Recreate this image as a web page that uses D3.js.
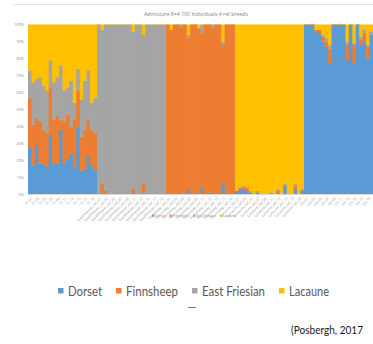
<!DOCTYPE html>
<html>
<head>
<meta charset="utf-8">
<script src="https://cdn.jsdelivr.net/npm/d3@7"></script>
<style>
  body { margin: 0; background: #fff; }
  svg { display: block; }
</style>
</head>
<body>
<svg id="chart" width="373" height="344"></svg>
<script>
const breeds = ['Dorset', 'Finnsheep', 'East Friesian', 'Lacaune']
const colors = ['#5B9BD5', '#ED7D31', '#A5A5A5', '#FFC000']

// sample ids, one per bar (5 groups of 20)
const testIds = ['T1 01', 'T1 02', 'T1 03', 'T1 04', 'T1 05', 'T1 06', 'T1 07', 'T1 08', 'T1 09', 'T1 10',
  'T1 11', 'T1 12', 'T1 13', 'T1 14', 'T1 15', 'T1 16', 'T1 17', 'T1 18', 'T1 19', 'T1 20']
const eastFriesianIds = ['EastFriesian_ref_01', 'EastFriesian_ref_02', 'EastFriesian_ref_03', 'EastFriesian_ref_04',
  'EastFriesian_ref_05', 'EastFriesian_ref_06', 'EastFriesian_ref_07', 'EastFriesian_ref_08', 'EastFriesian_ref_09',
  'EastFriesian_ref_10', 'EastFriesian_ref_11', 'EastFriesian_ref_12', 'EastFriesian_ref_13', 'EastFriesian_ref_14',
  'EastFriesian_ref_15', 'EastFriesian_ref_16', 'EastFriesian_ref_17', 'EastFriesian_ref_18', 'EastFriesian_ref_19',
  'EastFriesian_ref_20']
const finnsheepIds = ['Finnsheep_ref_01', 'Finnsheep_ref_02', 'Finnsheep_ref_03', 'Finnsheep_ref_04', 'Finnsheep_ref_05',
  'Finnsheep_ref_06', 'Finnsheep_ref_07', 'Finnsheep_ref_08', 'Finnsheep_ref_09', 'Finnsheep_ref_10', 'Finnsheep_ref_11',
  'Finnsheep_ref_12', 'Finnsheep_ref_13', 'Finnsheep_ref_14', 'Finnsheep_ref_15', 'Finnsheep_ref_16', 'Finnsheep_ref_17',
  'Finnsheep_ref_18', 'Finnsheep_ref_19', 'Finnsheep_ref_20']
const lacauneIds = ['Lacaune_ref_01', 'Lacaune_ref_02', 'Lacaune_ref_03', 'Lacaune_ref_04', 'Lacaune_ref_05',
  'Lacaune_ref_06', 'Lacaune_ref_07', 'Lacaune_ref_08', 'Lacaune_ref_09', 'Lacaune_ref_10', 'Lacaune_ref_11',
  'Lacaune_ref_12', 'Lacaune_ref_13', 'Lacaune_ref_14', 'Lacaune_ref_15', 'Lacaune_ref_16', 'Lacaune_ref_17',
  'Lacaune_ref_18', 'Lacaune_ref_19', 'Lacaune_ref_20']
const dorsetIds = ['DS 01', 'DS 02', 'DS 03', 'DS 04', 'DS 05', 'DS 06', 'DS 07', 'DS 08', 'DS 09', 'DS 10',
  'DS 11', 'DS 12', 'DS 13', 'DS 14', 'DS 15', 'DS 16', 'DS 17', 'DS 18', 'DS 19', 'DS 20']

// admixture proportions (%) per bar
const dorset = [
  28, 17, 29, 18, 18, 16, 35, 18, 18, 38, 18, 21, 24, 16, 40, 14, 15, 23, 17, 14,
  0, 1, 0, 0, 0, 0, 0, 0, 0, 0, 0, 0, 0, 1, 0, 0, 0, 0, 0, 0,
  0, 0, 0, 0, 1, 0, 3, 0, 0, 0, 4, 0, 1, 1, 0, 0, 6, 0, 0, 0,
  2, 3, 3, 2, 1, 0, 1, 0, 0, 0, 0.5, 0, 1, 0, 5, 0, 0, 3, 0, 2,
  100, 100, 100, 96, 95, 90, 87, 77.5, 100, 100, 100, 100, 79, 100, 77, 100, 88, 90, 80, 94
]
const finnsheep = [
  29, 24, 16, 25, 20, 20, 28, 26, 28, 6, 25, 26, 15, 28, 21, 20, 23, 21, 21, 22,
  0, 5, 2, 0, 0, 0, 0, 0, 0, 0, 3, 0, 0, 5, 0, 0, 0, 0, 0, 0,
  100, 97, 100, 100, 98, 100, 89, 100, 100, 98, 91, 100, 99, 97, 100, 100, 82, 100, 100, 100,
  0, 1, 1, 2, 0, 0, 0, 0, 0, 0, 0, 0, 1, 0, 0, 0, 0, 2, 0, 0,
  0, 0, 0, 1, 2, 3, 3, 8.5, 0, 0, 0, 0, 9, 0, 11, 0, 3, 5, 7, 0
]
const eastFriesian = [
  16, 25, 23, 26, 26, 25, 16, 22, 23, 32, 18, 16, 28, 10, 13, 22, 29, 29, 16, 21,
  100, 91, 98, 100, 100, 100, 100, 100, 100, 100, 93, 100, 100, 88, 100, 100, 100, 100, 100, 100,
  0, 0, 0, 0, 1, 0, 2, 0, 0, 0, 5, 0, 0, 2, 0, 0, 2, 0, 0, 0,
  0, 0, 1, 0, 1, 0, 1, 0, 0, 0, 0.5, 0, 1, 0, 1, 0, 0, 1, 0, 1,
  0, 0, 0, 0, 0, 1, 2, 2, 0, 0, 0, 0, 2, 0, 1, 0, 2, 2, 1, 2
]
const lacaune = [
  27, 34, 32, 31, 36, 39, 21, 34, 31, 24, 39, 37, 33, 46, 26, 44, 33, 27, 46, 43,
  0, 3, 0, 0, 0, 0, 0, 0, 0, 0, 4, 0, 0, 6, 0, 0, 0, 0, 0, 0,
  0, 3, 0, 0, 0, 0, 6, 0, 0, 2, 0, 0, 0, 0, 0, 0, 10, 0, 0, 0,
  98, 96, 95, 96, 98, 100, 98, 100, 100, 100, 99, 100, 97, 100, 94, 100, 100, 94, 100, 97,
  0, 0, 0, 3, 3, 6, 8, 12, 0, 0, 0, 0, 10, 0, 11, 0, 7, 3, 12, 4
]

const yTicks = [0, 0.1, 0.2, 0.3, 0.4, 0.5, 0.6, 0.7, 0.8, 0.9, 1]

const ids = [...testIds, ...eastFriesianIds, ...finnsheepIds, ...lacauneIds, ...dorsetIds]
const seriesData = [dorset, finnsheep, eastFriesian, lacaune]

const svg = d3.select('#chart')
const tinyFont = 'Open Sans, sans-serif'
const legendFont = 'Lato, "Open Sans", sans-serif'

// chart frame top edge
svg.append('line')
  .attr('x1', 13).attr('x2', 373)
  .attr('y1', 4.5).attr('y2', 4.5)
  .attr('stroke', '#e3e3e3')

svg.append('text')
  .attr('x', 196)
  .attr('y', 16)
  .attr('text-anchor', 'middle')
  .attr('font-family', tinyFont)
  .attr('font-size', 5.2)
  .attr('fill', '#7f7f7f')
  .text('Admixture K=4 100 Individuals 4 ref breeds')

const x = d3.scaleBand()
  .domain(ids)
  .range([28, 373])
  .padding(0)

const y = d3.scaleLinear()
  .domain([0, 1])
  .range([194, 24.5])

const rows = ids.map((id, i) => {
  const row = { id }
  breeds.forEach((b, j) => { row[b] = seriesData[j][i] })
  return row
})

const stacked = d3.stack()
  .keys(breeds)
  .offset(d3.stackOffsetExpand)(rows)

// one group per bar, drawn left to right so small overlaps hide seams
const bars = svg.append('g')
  .selectAll('g')
  .data(ids.map((id, i) => stacked.map((s, j) => ({ seg: s[i], color: colors[j] }))))
  .join('g')

bars.selectAll('rect')
  .data(d => d)
  .join('rect')
  .attr('fill', d => d.color)
  .attr('x', d => x(d.seg.data.id))
  .attr('width', x.bandwidth() + 0.7)
  .attr('y', d => y(d.seg[1]))
  .attr('height', d => Math.max(0, y(d.seg[0]) - y(d.seg[1]) + 0.3))

// y axis
const yAxis = svg.append('g')
  .attr('transform', 'translate(28,0)')
  .call(d3.axisLeft(y).tickValues(yTicks).tickFormat(d3.format('.0%')).tickSize(0).tickPadding(4))
yAxis.select('.domain').remove()
yAxis.selectAll('text')
  .attr('font-family', tinyFont)
  .attr('font-size', 3.8)
  .attr('fill', '#8c8c8c')

// x axis, every other label, rotated
const xAxis = svg.append('g')
  .attr('transform', 'translate(0,194)')
  .call(d3.axisBottom(x).tickValues(ids.filter((d, i) => i % 2 === 0)).tickSize(0).tickPadding(3))
xAxis.select('.domain').attr('stroke', '#d9d9d9')
xAxis.selectAll('text')
  .attr('font-family', tinyFont)
  .attr('font-size', 3.6)
  .attr('fill', '#999')
  .attr('text-anchor', 'end')
  .attr('dy', '0.3em')
  .attr('transform', 'translate(0,2) rotate(-45)')

// small legend inside the chart
const mini = svg.append('g').attr('transform', 'translate(152,217)')
let mx = 0
breeds.forEach((b, i) => {
  mini.append('rect')
    .attr('x', mx).attr('y', -2.4)
    .attr('width', 2.2).attr('height', 2.2)
    .attr('fill', colors[i])
  const t = mini.append('text')
    .attr('x', mx + 3)
    .attr('font-family', tinyFont)
    .attr('font-size', 3.4)
    .attr('fill', '#8c8c8c')
    .text(b)
  mx += 3 + t.node().getComputedTextLength() + 4
})

// large legend below the chart (narrow, Calibri-like widths)
const legendWidths = [34, 52, 63, 40]
const legend = svg.append('g').attr('transform', 'translate(58,296)')
let lx = 0
breeds.forEach((b, i) => {
  legend.append('rect')
    .attr('x', lx).attr('y', -8)
    .attr('width', 5.5).attr('height', 5.5)
    .attr('fill', colors[i])
  legend.append('text')
    .attr('x', lx + 10)
    .attr('font-family', legendFont)
    .attr('font-size', 14)
    .attr('fill', '#595959')
    .attr('textLength', legendWidths[i])
    .attr('lengthAdjust', 'spacingAndGlyphs')
    .text(b)
  lx += 10 + legendWidths[i] + 14
})

// small mark under the legend
svg.append('line')
  .attr('x1', 188).attr('x2', 196)
  .attr('y1', 307.5).attr('y2', 307.5)
  .attr('stroke', '#7a7a7a')

svg.append('text')
  .attr('x', 291)
  .attr('y', 334)
  .attr('font-family', legendFont)
  .attr('font-size', 12)
  .attr('fill', '#1a1a1a')
  .attr('textLength', 72)
  .attr('lengthAdjust', 'spacingAndGlyphs')
  .text('(Posbergh, 2017')
</script>
</body>
</html>
